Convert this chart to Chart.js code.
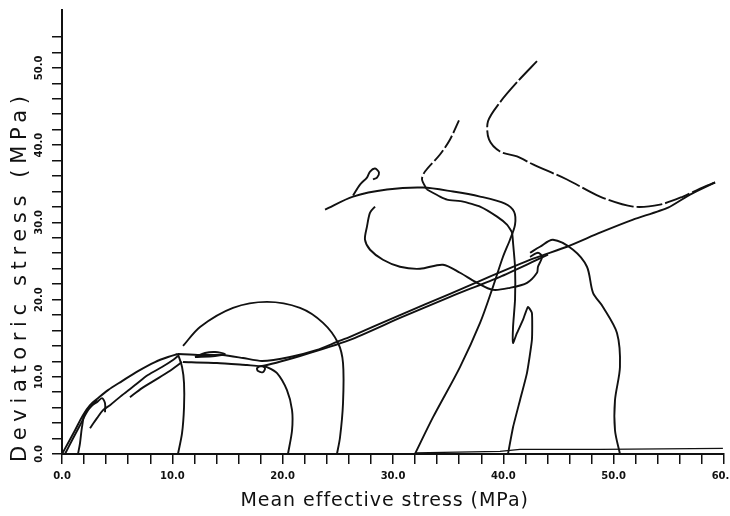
<!DOCTYPE html>
<html>
<head>
<meta charset="utf-8">
<script src="https://cdn.jsdelivr.net/npm/chart.js@4.4.0/dist/chart.umd.min.js"></script>
<style>
  html, body { margin: 0; padding: 0; background: #fff; }
</style>
</head>
<body>
<canvas id="chart" width="730" height="516"></canvas>
<script>
// stress paths as [mean effective stress p, deviatoric stress q], MPa
const pathOrigin = [[0,0],[0.54,1.39],[1.18,3.08],[1.9,5.03],[2.54,6.32],[3.26,7.23],[4.17,8.27],[5.44,9.44],[6.89,10.74],[8.43,11.91],[9.61,12.56],[10.51,12.95]];
const pathOriginB = [[0.27,0],[0.91,1.78],[1.63,3.73],[2.36,5.68],[3.17,6.97]];
const pathOriginC = [[1.45,0],[1.63,1.39],[1.81,3.47],[2.08,5.29],[2.72,6.32],[3.17,6.71],[3.63,7.23],[3.9,6.58],[3.9,5.42]];
const pathReload1 = [[2.54,3.34],[3.17,4.64],[3.72,5.68],[4.35,6.32],[5.44,7.62],[6.62,8.92],[7.79,10.22],[9.06,11.26],[10.06,12.17],[10.51,12.69]];
const pathReload2 = [[6.16,7.36],[7.25,8.53],[8.43,9.57],[9.61,10.61],[10.88,11.91]];
const path10 = [[10.51,0],[10.88,2.69],[11.06,6.06],[11.06,9.18],[10.88,11.26],[10.51,12.95]];
const pathMain = [[10.51,12.95],[12.51,12.82],[14.59,12.82],[16.41,12.43],[18.13,12.04],[20.67,12.56],[23.11,13.47],[24.92,14.51],[26.1,15.16],[30.63,18.0],[35.17,20.74],[37.89,22.43],[42.69,25.29],[45.77,26.84],[48.76,28.66],[51.76,30.35],[54.93,31.91],[56.92,33.6],[59.19,35.17]];
const pathMainLower = [[10.97,11.91],[14.05,11.78],[16.77,11.52],[18.13,11.39],[21.57,12.69],[26.1,14.77],[30.63,17.62],[35.17,20.35],[39.7,22.95],[42.69,24.9],[44.05,25.81]];
const pathBump = [[12.05,12.56],[12.96,13.08],[13.87,13.21],[14.77,12.95],[13.87,12.69],[12.05,12.56]];
const path20 = [[20.48,0],[20.85,3.08],[20.85,5.68],[20.39,8.27],[19.49,10.48],[18.58,11.26],[18.13,11.39],[17.68,11.13],[17.77,10.74],[18.22,10.61],[18.4,11.1],[18.13,11.39]];
const path25 = [[24.92,0],[25.2,2.17],[25.47,6.58],[25.47,11.78],[25.02,14.38],[23.66,16.98],[21.57,18.92],[18.58,19.7],[15.5,18.92],[12.51,16.45],[10.97,13.99]];
const path32 = [[31.99,0],[33.63,4.77],[36.07,11.26],[37.89,16.97],[39.06,21.65],[39.97,25.54],[40.6,27.75],[41.06,29.7],[40.97,31.38],[40.15,32.43],[37.89,33.34],[35.44,33.99],[32.72,34.51],[29.46,34.25],[26.38,33.34],[23.84,31.65]];
const path40 = [[40.42,0],[40.88,3.47],[41.51,6.97],[42.14,10.48],[42.59,14.77],[42.59,18.27],[42.23,19.05],[41.78,17.36],[41.24,15.68],[40.88,14.38],[40.88,16.45],[41.06,19.96],[41.06,24.25],[40.88,27.36],[40.79,28.66],[40.33,29.7],[39.43,30.74],[37.89,32.04],[36.35,32.69],[34.9,32.95],[34.26,33.34],[33.08,34.25]];
const pathUpperLeft = [[33.08,34.25],[32.63,35.55],[32.9,36.58],[34.26,38.79],[35.17,40.74],[35.98,43.2]];
const pathS = [[28.37,32.04],[27.92,31.26],[27.64,29.44],[27.46,27.75],[27.92,26.45],[29.09,25.16],[30.63,24.25],[32.45,23.99],[34.53,24.51],[36.07,23.47],[37.62,22.17],[39.06,21.26],[40.6,21.52],[42.15,22.17],[43.05,23.47],[43.14,24.25],[43.51,25.54],[43.14,26.06],[42.42,25.54]];
const pathHook = [[26.38,33.47],[27.01,34.89],[27.64,35.8],[27.92,36.58],[28.37,36.97],[28.73,36.45],[28.55,35.8],[28.19,35.55]];
const pathTop = [[43.05,50.87],[41.24,48.15],[39.7,45.55],[38.61,43.08],[38.7,40.74],[39.7,39.18],[41.24,38.53],[42.69,37.5],[45.77,35.55],[48.76,33.34],[51.76,32.04],[54.2,32.3],[56.29,33.34],[57.83,34.38],[59.19,35.16]];
const path50 = [[50.57,0],[50.12,3.08],[50.12,6.97],[50.57,11.26],[50.3,15.68],[49.03,19.05],[48.13,20.87],[47.58,24.25],[46.32,26.45],[44.5,27.75],[43.32,26.84],[42.42,26.06]];
const pathBase = [[32.0,0.15],[39.7,0.35],[41.5,0.6],[48.8,0.6],[59.9,0.74]];

const xTitle = 'Mean effective stress (MPa)';
const yTitle = 'Deviatoric stress (MPa)';
const ink = '#111';

const toXY = pts => pts.map(([x, y]) => ({ x, y }));

function curve(pts, extra) {
  return Object.assign({
    data: toXY(pts),
    showLine: true,
    borderColor: ink,
    borderWidth: 1.9,
    pointRadius: 0,
    tension: 0.3,
    fill: false,
    clip: false
  }, extra || {});
}

// spread a label out so it covers a given width
function spacedText(ctx, text, x, y, width) {
  ctx.letterSpacing = '0px';
  const w = ctx.measureText(text).width;
  const gap = (width - w) / (text.length - 1);
  ctx.letterSpacing = gap.toFixed(2) + 'px';
  ctx.textAlign = 'left';
  ctx.fillText(text, x - width / 2, y);
  ctx.letterSpacing = '0px';
}

const axisTitles = {
  id: 'axisTitles',
  afterDraw(chart) {
    const ctx = chart.ctx;
    ctx.save();
    ctx.fillStyle = ink;
    ctx.font = '19px "DejaVu Sans"';
    ctx.textBaseline = 'alphabetic';
    spacedText(ctx, xTitle, 384, 506, 287);
    ctx.font = '21px "DejaVu Sans"';
    ctx.translate(26, 279);
    ctx.rotate(-Math.PI / 2);
    spacedText(ctx, yTitle, 0, 0, 366);
    ctx.restore();
  }
};

const tickFont = { family: 'DejaVu Sans', size: 10, weight: 'bold' };
const tenths = v => (Math.abs(v % 10) < 1e-6 ? v.toFixed(1) : '');

new Chart(document.getElementById('chart'), {
  type: 'scatter',
  data: {
    datasets: [
      curve(pathOrigin), curve(pathOriginB), curve(pathOriginC),
      curve(pathReload1), curve(pathReload2), curve(path10),
      curve(pathMain, { tension: 0.2 }), curve(pathMainLower, { tension: 0.2 }),
      curve(pathBump), curve(path20), curve(path25), curve(path32),
      curve(path40, { tension: 0.15 }), curve(pathUpperLeft, { borderDash: [14, 3] }),
      curve(pathS), curve(pathHook), curve(pathTop, { borderDash: [26, 3] }),
      curve(path50), curve(pathBase, { borderWidth: 1.2, tension: 0 })
    ]
  },
  options: {
    responsive: false,
    animation: false,
    events: [],
    layout: { padding: { top: 10, right: 6, left: 0, bottom: 0 } },
    plugins: { legend: { display: false }, tooltip: { enabled: false } },
    scales: {
      x: {
        type: 'linear',
        min: 0,
        max: 60,
        border: { display: true, color: ink, width: 2 },
        grid: { drawOnChartArea: false, drawTicks: true, tickLength: 10, color: ink, lineWidth: 1.5 },
        ticks: { stepSize: 2, autoSkip: false, maxRotation: 0, padding: 6, color: ink, font: tickFont, callback: tenths },
        afterFit(s) { s.height = 62; s.paddingLeft = 0; s.paddingRight = 0; }
      },
      y: {
        type: 'linear',
        min: 0,
        max: 57.5,
        border: { display: true, color: ink, width: 2 },
        grid: { drawOnChartArea: false, drawTicks: true, tickLength: 10, color: ink, lineWidth: 1.5 },
        ticks: {
          stepSize: 2, autoSkip: false, minRotation: 90, maxRotation: 90, crossAlign: 'center',
          padding: 0, color: ink, font: tickFont, callback: tenths
        },
        afterBuildTicks(s) {
          s.ticks = s.ticks.filter(t => Math.abs(t.value / 2 - Math.round(t.value / 2)) < 1e-6);
        },
        afterFit(s) { s.width = 62; s.paddingTop = 0; s.paddingBottom = 0; }
      }
    }
  },
  plugins: [axisTitles]
});
</script>
</body>
</html>
